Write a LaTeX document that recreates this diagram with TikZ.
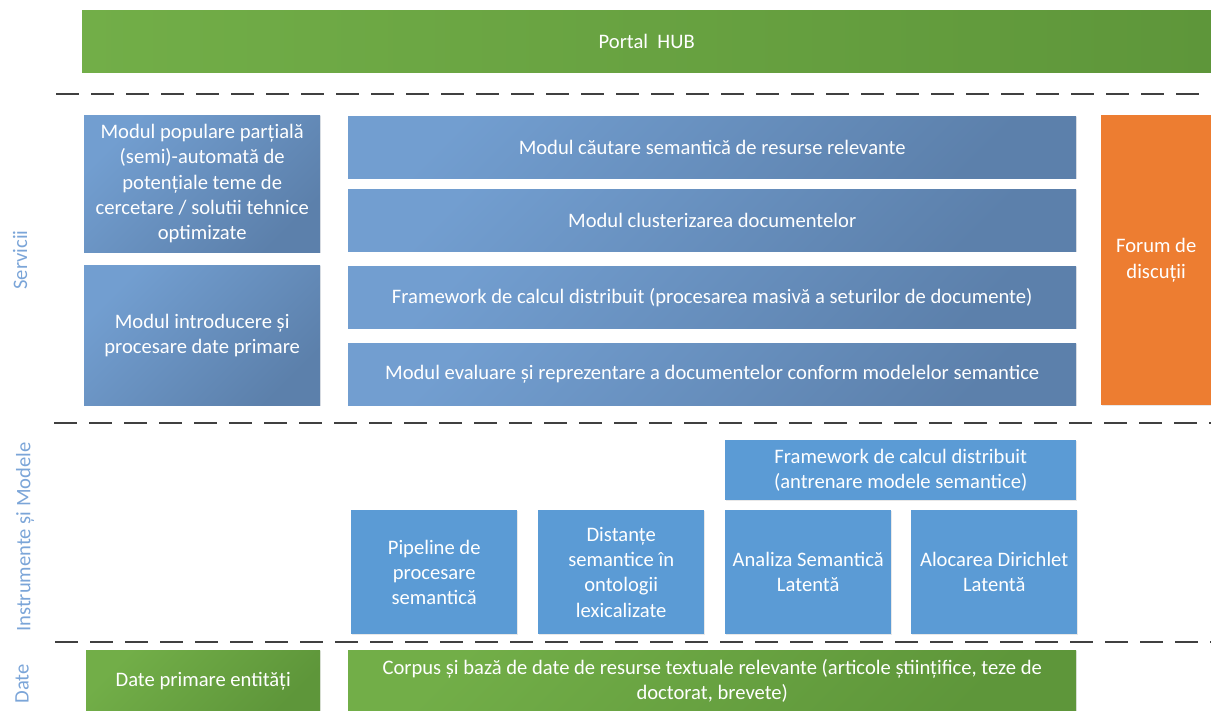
\documentclass[tikz,border=0pt]{standalone}
\usepackage{fontspec}
\setmainfont{Carlito}
\usetikzlibrary{shadows}
\definecolor{gL}{HTML}{72AE48}
\definecolor{gD}{HTML}{5E963A}
\definecolor{sL}{HTML}{729ED0}
\definecolor{sD}{HTML}{5C80AB}
\definecolor{tB}{HTML}{5B9BD5}
\definecolor{orng}{HTML}{ED7D31}
\definecolor{lbl}{HTML}{7BA5D8}
\definecolor{dsh}{HTML}{404040}
\begin{document}
\begin{tikzpicture}[x=1pt,y=-1pt,
  base/.style={rectangle, anchor=north west, inner sep=2pt, align=center, text=white,
     font=\fontsize{20.6}{25.2}\selectfont, drop shadow={opacity=0.18, shadow xshift=1pt, shadow yshift=-1pt}},
  green/.style={base, top color=gL, bottom color=gD, shading angle=45},
  svc/.style={base, top color=sL, bottom color=sD, shading angle=45},
  tool/.style={base, fill=tB},
  forum/.style={base, fill=orng},
  sep/.style={draw=dsh, line width=1.8pt, dash pattern=on 23pt off 12pt},
  side/.style={text=lbl, rotate=90, font=\fontsize{20.6}{24}\selectfont}]
\useasboundingbox (0,0) rectangle (1211,711);
% Portal
\node[green, top color=gL, bottom color=gD, shading angle=90, minimum width=1129pt, minimum height=62pt] (hub) at (82,10) {Portal\ \ HUB};
% separators
\coordinate (s1a) at (56,94); \coordinate (s1b) at (1211,94);
\coordinate (s2a) at (54,423); \coordinate (s2b) at (1211,423);
\coordinate (s3a) at (55,642); \coordinate (s3b) at (1211,642);
\draw[sep] (s1a) -- (s1b);
\draw[sep] (s2a) -- (s2b);
\draw[sep] (s3a) -- (s3b);
% Servicii
\node[svc, minimum width=236pt, minimum height=137pt] (mpop) at (84,115)
  {Modul populare parțială\\(semi)-automată de\\potențiale teme de\\cercetare / solutii tehnice\\optimizate};
\node[svc, minimum width=236pt, minimum height=140pt] (mintro) at (84,265)
  {Modul introducere și\\procesare date primare};
\node[svc, minimum width=728pt, minimum height=62pt] (mcaut) at (348,116)
  {Modul căutare semantică de resurse relevante};
\node[svc, minimum width=728pt, minimum height=62pt] (mclust) at (348,189)
  {Modul clusterizarea documentelor};
\node[svc, minimum width=728pt, minimum height=62pt] (mfw) at (348,266)
  {Framework de calcul distribuit (procesarea masivă a seturilor de documente)};
\node[svc, minimum width=728pt, minimum height=62pt] (meval) at (348,343)
  {Modul evaluare și reprezentare a documentelor conform modelelor semantice};
\node[forum, minimum width=110pt, minimum height=290pt] (forum) at (1101,115)
  {Forum de\\discuții};
% Instrumente
\node[tool, minimum width=351pt, minimum height=60pt] (fwt) at (725,440)
  {Framework de calcul distribuit\\(antrenare modele semantice)};
\node[tool, minimum width=166pt, minimum height=124pt] (pipe) at (351,510)
  {Pipeline de\\procesare\\semantică};
\node[tool, minimum width=166pt, minimum height=124pt] (dist) at (538,510)
  {Distanțe\\semantice în\\ontologii\\lexicalizate};
\node[tool, minimum width=166pt, minimum height=124pt] (lsa) at (725,510)
  {Analiza Semantică\\Latentă};
\node[tool, minimum width=166pt, minimum height=124pt] (lda) at (911,510)
  {Alocarea Dirichlet\\Latentă};
% Date
\node[green, minimum width=234pt, minimum height=62pt] (dprim) at (86,650)
  {Date primare entități};
\node[green, minimum width=728pt, minimum height=62pt] (corp) at (348,650)
  {Corpus și bază de date de resurse textuale relevante (articole științifice, teze de\\doctorat, brevete)};
% side labels
\node[side] (lserv) at (20,260) {Servicii};
\node[side] (linst) at (25,537) {Instrumente și Modele};
\node[side] (ldate) at (22,684) {Date};
\end{tikzpicture}
\end{document}
